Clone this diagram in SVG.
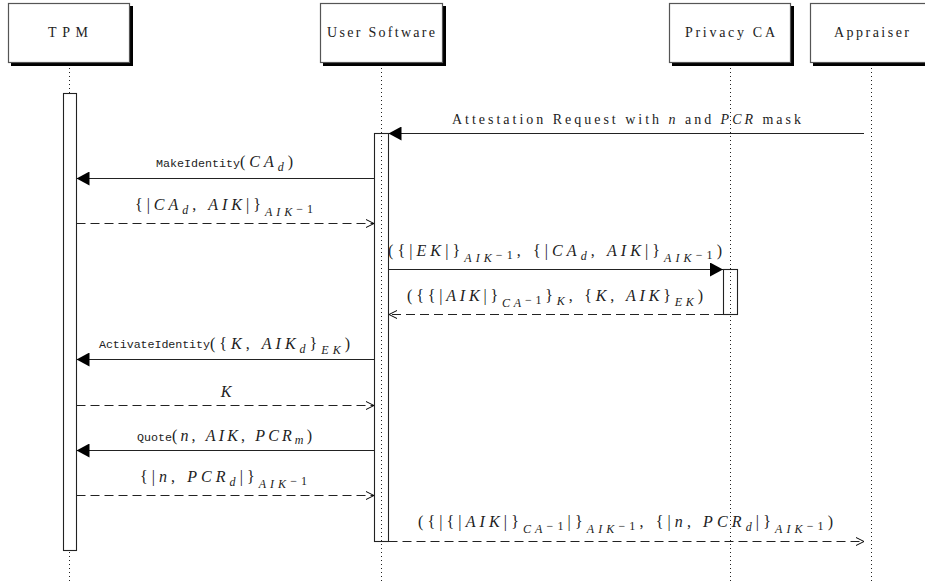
<svg xmlns="http://www.w3.org/2000/svg" width="925" height="584" viewBox="0 0 925 584">
<style>
.shadow{fill:#000}
.box{fill:#fff;stroke:#555;stroke-width:1.2}
.hd{font-family:"Liberation Serif",serif;font-size:14px;fill:#222}
.life{stroke:#222;stroke-width:1;stroke-dasharray:1 3;fill:none}
.bar{stroke:#222;stroke-width:1.1}
.msg{stroke:#222;stroke-width:1.2;fill:none}
.dash{stroke-dasharray:9 5}
.lbl{font-family:"Liberation Serif",serif;font-size:14px;fill:#222}
.m{font-family:"Liberation Serif",serif;font-size:16px;fill:#222}
.i{font-style:italic}
.s{font-size:12px}
.tt{font-family:"Liberation Mono","DejaVu Sans Mono",monospace;font-size:11.7px;fill:#222}
</style>
<defs>
<marker id="fillhead" viewBox="0 0 13 14" refX="13" refY="7" markerWidth="13" markerHeight="14" markerUnits="userSpaceOnUse" orient="auto"><path d="M0,0 L13,7 L0,14 Z" fill="#000"/></marker>
<marker id="openhead" viewBox="-1 -1 10 10" refX="8" refY="4" markerWidth="10" markerHeight="10" markerUnits="userSpaceOnUse" orient="auto"><path d="M0,0 L8,4 L0,8" fill="none" stroke="#000" stroke-width="1"/></marker>
</defs>
<rect width="925" height="584" fill="#fff"/>

<g id="tpm">
<rect class="shadow" x="11" y="6" width="122" height="60"/>
<rect class="box" x="8.5" y="3.5" width="121" height="59"/>
<text class="hd" x="48" y="37" textLength="40" lengthAdjust="spacing">TPM</text>
<line class="life" x1="69.5" y1="68" x2="69.5" y2="93"/>
<line class="life" x1="69.5" y1="552" x2="69.5" y2="584"/>
<rect class="bar" x="63.5" y="93.5" width="13" height="457" fill="#fff"/>
</g>

<g id="user-software">
<rect class="shadow" x="323" y="6" width="123" height="60"/>
<rect class="box" x="320.5" y="3.5" width="122" height="59"/>
<text class="hd" x="327" y="37" textLength="108" lengthAdjust="spacing">User Software</text>
<line class="life" x1="381.5" y1="68" x2="381.5" y2="584"/>
<rect class="bar" x="374.5" y="133.5" width="14" height="408" fill="none"/>
</g>

<g id="privacy-ca">
<rect class="shadow" x="672" y="6" width="122" height="60"/>
<rect class="box" x="669.5" y="3.5" width="121" height="59"/>
<text class="hd" x="685" y="37" textLength="90" lengthAdjust="spacing">Privacy CA</text>
<line class="life" x1="730.5" y1="68" x2="730.5" y2="584"/>
<rect class="bar" x="723.5" y="269.5" width="14" height="45" fill="none"/>
</g>

<g id="appraiser">
<rect class="shadow" x="813" y="6" width="122" height="60"/>
<rect class="box" x="810.5" y="3.5" width="121" height="59"/>
<text class="hd" x="834" y="37" textLength="75" lengthAdjust="spacing">Appraiser</text>
<line class="life" x1="871.5" y1="68" x2="871.5" y2="584"/>
</g>

<g id="connectors">
<!-- 1 -->
<line class="msg" x1="864" y1="133.5" x2="388.5" y2="133.5" marker-end="url(#fillhead)"/>
<text class="lbl" x="452" y="124" textLength="349" lengthAdjust="spacing">Attestation Request with <tspan class="i">n</tspan> and <tspan class="i">PCR</tspan> mask</text>
<!-- 2 -->
<line class="msg" x1="374.5" y1="178.5" x2="76.5" y2="178.5" marker-end="url(#fillhead)"/>
<text class="tt" x="156" y="167" textLength="84" lengthAdjust="spacing">MakeIdentity</text>
<text class="m" x="240" y="167" textLength="53" lengthAdjust="spacing">(<tspan class="i">CA</tspan><tspan class="s i" dy="4">d</tspan><tspan dy="-4">)</tspan></text>
<!-- 3 -->
<line class="msg dash" x1="76.5" y1="223.5" x2="374" y2="223.5" marker-end="url(#openhead)"/>
<text class="m" x="135" y="210" textLength="178" lengthAdjust="spacing">{|<tspan class="i">CA</tspan><tspan class="s i" dy="4">d</tspan><tspan dy="-4">, </tspan><tspan class="i">AIK</tspan>|}<tspan class="s i" dy="6">AIK</tspan><tspan class="s" dy="-3">−1</tspan></text>
<!-- 4 -->
<line class="msg" x1="388.5" y1="269.5" x2="723" y2="269.5" marker-end="url(#fillhead)"/>
<text class="m" x="388" y="256" textLength="334" lengthAdjust="spacing">({|<tspan class="i">EK</tspan>|}<tspan class="s i" dy="6">AIK</tspan><tspan class="s" dy="-3">−1</tspan><tspan dy="-3">, {|</tspan><tspan class="i">CA</tspan><tspan class="s i" dy="4">d</tspan><tspan dy="-4">, </tspan><tspan class="i">AIK</tspan>|}<tspan class="s i" dy="6">AIK</tspan><tspan class="s" dy="-3">−1</tspan><tspan dy="-3">)</tspan></text>
<!-- 5 -->
<line class="msg dash" x1="723" y1="314.5" x2="389" y2="314.5" marker-end="url(#openhead)"/>
<text class="m" x="407" y="301" textLength="296" lengthAdjust="spacing">({{|<tspan class="i">AIK</tspan>|}<tspan class="s i" dy="6">CA</tspan><tspan class="s" dy="-3">−1</tspan><tspan dy="-3">}</tspan><tspan class="s i" dy="4">K</tspan><tspan dy="-4">, {</tspan><tspan class="i">K</tspan>, <tspan class="i">AIK</tspan>}<tspan class="s i" dy="5">EK</tspan><tspan dy="-5">)</tspan></text>
<!-- 6 -->
<line class="msg" x1="374.5" y1="359.5" x2="76.5" y2="359.5" marker-end="url(#fillhead)"/>
<text class="tt" x="99" y="348" textLength="111" lengthAdjust="spacing">ActivateIdentity</text>
<text class="m" x="210" y="349" textLength="140" lengthAdjust="spacing">({<tspan class="i">K</tspan>, <tspan class="i">AIK</tspan><tspan class="s i" dy="4">d</tspan><tspan dy="-4">}</tspan><tspan class="s i" dy="5">EK</tspan><tspan dy="-5">)</tspan></text>
<!-- 7 -->
<line class="msg dash" x1="76.5" y1="405.5" x2="374" y2="405.5" marker-end="url(#openhead)"/>
<text class="m i" x="226" y="397" text-anchor="middle">K</text>
<!-- 8 -->
<line class="msg" x1="374.5" y1="450.5" x2="76.5" y2="450.5" marker-end="url(#fillhead)"/>
<text class="tt" x="137" y="441" textLength="35" lengthAdjust="spacing">Quote</text>
<text class="m" x="172" y="441" textLength="140" lengthAdjust="spacing">(<tspan class="i">n</tspan>, <tspan class="i">AIK</tspan>, <tspan class="i">PCR</tspan><tspan class="s i" dy="3">m</tspan><tspan dy="-3">)</tspan></text>
<!-- 9 -->
<line class="msg dash" x1="76.5" y1="495.5" x2="374" y2="495.5" marker-end="url(#openhead)"/>
<text class="m" x="140" y="482" textLength="167" lengthAdjust="spacing">{|<tspan class="i">n</tspan>, <tspan class="i">PCR</tspan><tspan class="s i" dy="4">d</tspan><tspan dy="-4">|}</tspan><tspan class="s i" dy="6">AIK</tspan><tspan class="s" dy="-3">−1</tspan></text>
<!-- 10 -->
<line class="msg dash" x1="388.5" y1="541.5" x2="864" y2="541.5" marker-end="url(#openhead)"/>
<text class="m" x="418" y="527" textLength="415" lengthAdjust="spacing">({|{|<tspan class="i">AIK</tspan>|}<tspan class="s i" dy="6">CA</tspan><tspan class="s" dy="-3">−1</tspan><tspan dy="-3">|}</tspan><tspan class="s i" dy="6">AIK</tspan><tspan class="s" dy="-3">−1</tspan><tspan dy="-3">, {|</tspan><tspan class="i">n</tspan>, <tspan class="i">PCR</tspan><tspan class="s i" dy="4">d</tspan><tspan dy="-4">|}</tspan><tspan class="s i" dy="6">AIK</tspan><tspan class="s" dy="-3">−1</tspan><tspan dy="-3">)</tspan></text>
</g>
</svg>
